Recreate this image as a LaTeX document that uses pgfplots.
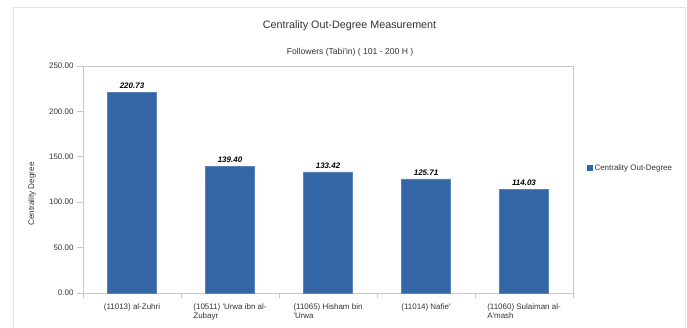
\documentclass[border=0pt]{standalone}
\usepackage{pgfplots}
\pgfplotsset{compat=1.18}
\usepackage{fontspec}
\setmainfont{Liberation Sans}
\newcommand{\q}{\textquotesingle}

\definecolor{barblue}{HTML}{3465A4}
\definecolor{baredge}{HTML}{5B83BA}
\definecolor{axisgray}{HTML}{C8C8C8}
\definecolor{framegray}{HTML}{E2E2E2}
\definecolor{textgray}{HTML}{333333}

\begin{document}
\begin{tikzpicture}[x=1bp,y=1bp]
\useasboundingbox (0,0) rectangle (687,327);
% outer chart frame
\draw[framegray, line width=0.8bp] (13,-2) -- (13,320) -- (685,320) -- (685,-2);
% titles
\node[text=textgray, font=\fontsize{10.8}{12}\selectfont] at (349.5,301) {Centrality Out-Degree Measurement};
\node[text=textgray, font=\fontsize{8.6}{10}\selectfont] at (350,275) {Followers (Tabi\q in) ( 101 - 200 H )};

\begin{axis}[
  at={(83bp,34bp)}, anchor=south west,
  scale only axis, width=490bp, height=227bp,
  xmin=0.5, xmax=5.5, ymin=0, ymax=250,
  axis line style={axisgray, line width=0.7bp},
  xtick pos=lower, ytick pos=left,
  xtick={1,2,3,4,5},
  xticklabels={{(11013) al-Zuhri},{(10511) \q Urwa ibn al-\\Zubayr},{(11065) Hisham bin\\\q Urwa},{(11014) Nafie\q},{(11060) Sulaiman al-\\A\q mash}},
  x tick label style={align=left, font=\fontsize{8}{9.5}\selectfont, text=textgray, yshift=-1bp},
  major x tick style={draw=none},
  minor xtick={0.5,1.5,2.5,3.5,4.5,5.5},
  minor x tick style={axisgray, line width=0.7bp},
  minor tick length=5bp,
  ytick={0,50,100,150,200,250},
  y tick label style={font=\fontsize{8}{9}\selectfont, text=textgray},
  major y tick style={axisgray, line width=0.7bp},
  major tick length=6bp,
  tick align=outside,
  /pgf/number format/assume math mode=true,
  yticklabel style={/pgf/number format/.cd, fixed, fixed zerofill, precision=2},
  ylabel={Centrality Degree},
  ylabel style={font=\fontsize{8.2}{9}\selectfont, text=textgray, at={(axis description cs:-0.104,0.436)}, anchor=center},
  ybar, bar width=49bp,
  nodes near coords,
  every node near coord/.append style={font=\fontsize{8}{9}\selectfont\bfseries\itshape, text=black, /pgf/number format/.cd, fixed, fixed zerofill, precision=2, assume math mode=true},
  legend style={at={(1.028,0.551)}, anchor=west, draw=none, fill=none, font=\fontsize{8}{9}\selectfont, text=textgray, inner sep=0pt},
  legend image code/.code={\fill[barblue] (0bp,-2.5bp) rectangle (5bp,2.5bp);},
]
\addplot[fill=barblue, draw=baredge, line width=0.6bp] coordinates {
  (1,220.73) (2,139.40) (3,133.42) (4,125.71) (5,114.03)
};
\addlegendentry{Centrality Out-Degree}
\end{axis}
\end{tikzpicture}
\end{document}
